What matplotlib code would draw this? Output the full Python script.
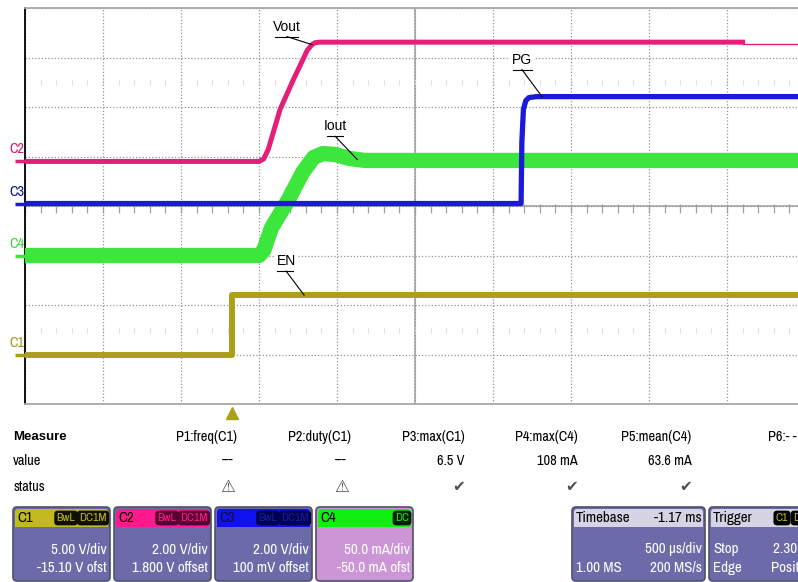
import matplotlib.pyplot as plt
import matplotlib.patches as patches
from matplotlib import font_manager
import numpy as np

# 字体: 示波器界面用窄体, 没有就用 Liberation Sans 小一号
installed = {f.name for f in font_manager.fontManager.ttflist}
narrow = sorted(n for n in installed if 'Narrow' in n or 'Condensed' in n)
if narrow:
    UI_FONT, FS = narrow[0], 10.3
else:
    UI_FONT, FS = 'Liberation Sans', 9
plt.rcParams['font.family'] = [UI_FONT, 'DejaVu Sans']

# ---- 示波器设置 ----
time_per_div = 0.5          # ms/div (500 us/div)
trig_delay = 1.17           # ms, timebase -1.17 ms
n_xdiv, n_ydiv = 10, 8

ch_names = ['C1', 'C2', 'C3', 'C4']
ch_per_div = [5.00, 2.00, 2.00, 50.0]      # V/div ... mA/div
ch_offset = [-15.10, 1.800, 0.100, -50.0]
ch_scale_text = ['5.00 V/div', '2.00 V/div', '2.00 V/div', '50.0 mA/div']
ch_offset_text = ['-15.10 V ofst', '1.800 V offset', '100 mV offset', '-50.0 mA ofst']
ch_tags = [['BwL', 'DC1M'], ['BwL', 'DC1M'], ['BwL', 'DC1M'], ['DC']]

# ---- 波形 (时间 ms; C1-C3 单位 V, C4 单位 mA) ----
en_t = [-1.33, 0.0, 0.0, 3.67]
en_v = [0.0, 0.0, 6.1, 6.1]

vout_t = [-1.33, 0.17, 0.20, 0.23, 0.305, 0.39, 0.48, 0.51, 0.53, 0.56, 3.27]
vout_v = [0.0, 0.0, 0.1, 0.5, 2.1, 3.3, 4.5, 4.72, 4.8, 4.82, 4.82]
vout_tail_t = [3.27, 3.67]
vout_tail_v = [4.75, 4.75]

pg_t = [-1.33, 1.85, 1.855, 1.865, 1.88, 1.90, 1.95, 3.67]
pg_v = [0.0, 0.0, 2.5, 3.8, 4.15, 4.28, 4.32, 4.32]

iout_t = [-1.33, 0.17, 0.20, 0.25, 0.35, 0.45, 0.52, 0.58, 0.66, 0.75, 0.85, 3.67]
iout_i = [0, 0, 5, 28, 54, 84, 99, 103, 102, 98, 96, 96]

# ---- 测量表 ----
meas_names = ['P1:freq(C1)', 'P2:duty(C1)', 'P3:max(C1)', 'P4:max(C4)', 'P5:mean(C4)']
meas_values = ['---', '---', '6.5 V', '108 mA', '63.6 mA']
meas_status = ['warn', 'warn', 'ok', 'ok', 'ok']

colors = {'C1': '#aca01a', 'C2': '#e41f78', 'C3': '#1a1ad8', 'C4': '#3ce63c'}
head_colors = {'C1': '#c2b820', 'C2': '#ff1a8c', 'C3': '#1010f0', 'C4': '#10f010'}
tag_fc = {'C1': '#101000', 'C2': '#5a0030', 'C3': '#000050', 'C4': '#002000'}
tag_tc = {'C1': '#c2b820', 'C2': '#ff1a8c', 'C3': '#1a1aa0', 'C4': '#10f010'}
label_colors = {'C1': '#a09a20', 'C2': '#d0206e', 'C3': '#101080', 'C4': '#40d040'}
body_color = '#6c6aa8'

W, H = 798, 582
fig = plt.figure(figsize=(W / 100, H / 100), dpi=100)
fig.patch.set_facecolor('white')

# 屏幕网格: 原点与每格像素
X0, Y0, DX, DY = 25, 8, 78, 49.5
ax = fig.add_axes([X0 / W, 1 - (Y0 + n_ydiv * DY) / H, n_xdiv * DX / W, n_ydiv * DY / H], zorder=0)
t_left = trig_delay - n_xdiv / 2 * time_per_div
t_right = t_left + n_xdiv * time_per_div
ax.set_xlim(t_left, t_right)
ax.set_ylim(-n_ydiv / 2, n_ydiv / 2)
ax.set_xticks(t_left + time_per_div * np.arange(n_xdiv + 1))
ax.set_yticks(np.arange(-n_ydiv // 2, n_ydiv // 2 + 1))
ax.tick_params(length=0, labelbottom=False, labelleft=False)
ax.grid(True, color='#959595', linestyle=(0, (1, 1.6)), linewidth=0.9)
ax.spines['left'].set_color('black')
ax.spines['left'].set_linewidth(1.3)
for s in ['top', 'bottom']:
    ax.spines[s].set_color('#a8a8a8')
    ax.spines[s].set_linewidth(1.3)
ax.spines['right'].set_visible(False)

# 中心线与刻度
ax.axvline(t_left + n_xdiv / 2 * time_per_div, color='#a8a8a8', lw=1.2, zorder=1)
ax.axhline(0, color='#a8a8a8', lw=1.2, zorder=1)
minor_t = t_left + 0.2 * time_per_div * np.arange(n_xdiv * 5 + 1)
ax.vlines(minor_t, -0.14, 0.04, color='#a0a0a0', lw=0.9, zorder=1)
ax.vlines(minor_t, 2.45, 2.56, color='#e2e2e2', lw=0.8, zorder=1)
ax.vlines(minor_t, -2.56, -2.45, color='#e2e2e2', lw=0.8, zorder=1)


def to_div(vals, ch):
    i = ch_names.index(ch)
    return (np.asarray(vals, dtype=float) + ch_offset[i]) / ch_per_div[i]


# 波形
ax.plot(iout_t, to_div(iout_i, 'C4'), color=colors['C4'], lw=11, solid_joinstyle='round', zorder=3)
ax.plot(pg_t, to_div(pg_v, 'C3'), color=colors['C3'], lw=3.8, zorder=4)
ax.plot(vout_t, to_div(vout_v, 'C2'), color=colors['C2'], lw=3.6, zorder=5)
ax.plot(vout_tail_t, to_div(vout_tail_v, 'C2'), color=colors['C2'], lw=1.0, zorder=5)
ax.plot(en_t, to_div(en_v, 'C1'), color=colors['C1'], lw=4.3, zorder=6)

# 覆盖层 (像素坐标)
ov = fig.add_axes([0, 0, 1, 1], zorder=2)
ov.set_xlim(0, W)
ov.set_ylim(H, 0)
ov.axis('off')


def scope_px(t, ydiv):
    return X0 + (t - t_left) / time_per_div * DX, Y0 + (n_ydiv / 2 - ydiv) * DY


# 左侧通道标记
for ch in ['C2', 'C3', 'C4', 'C1']:
    _, py = scope_px(t_left, to_div([0.0], ch)[0])
    ov.plot([15, X0], [py, py], color=colors[ch], lw=2.5, solid_capstyle='butt')
    ov.text(17, py - 12, ch, color=label_colors[ch], fontsize=FS, ha='center', va='center')

# 触发标记
tx, _ = scope_px(0.0, 0)
ov.plot([tx], [413], marker='^', color=colors['C1'], markersize=8, clip_on=False)


# 标注
def callout(name, t, y, dx, dy, ux0, ux1):
    px, py = scope_px(t, y)
    ov.text(px + dx, py + dy, name, fontsize=10, family='Liberation Sans', ha='center', va='center',
            bbox=dict(boxstyle='square,pad=0.15', fc='white', ec='none'), zorder=6)
    uy = py + dy + 10
    ov.plot([px + ux0, px + ux1], [uy, uy], color='black', lw=0.8, zorder=6)
    ov.plot([px + dx, px], [uy, py], color='black', lw=0.8, zorder=6)


callout('Vout', 0.51, to_div([4.72], 'C2')[0], -25, -18, -37, -14)
callout('Iout', 0.80, to_div([97], 'C4')[0], -22, -33, -30, -14)
callout('PG', 1.984, to_div([4.32], 'C3')[0], -20, -37, -29, -10)
callout('EN', 0.459, to_div([6.1], 'C1')[0], -18, -34, -27, -11)

# 测量表
ROW_M, ROW_V, ROW_S = 437, 461, 487
ov.text(13, ROW_M, 'Measure', family='Liberation Sans', fontsize=9.5, fontweight='bold', va='center')
ov.text(13, ROW_V, 'value', fontsize=FS, va='center')
ov.text(13, ROW_S, 'status', fontsize=FS, va='center')
col_right = 237 + 113.6 * np.arange(len(meas_names))
for i, name in enumerate(meas_names):
    ov.text(col_right[i], ROW_M, name, fontsize=FS, ha='right', va='center')
    ov.text(col_right[i] - (4 if meas_values[i] == '---' else 0), ROW_V, meas_values[i],
            fontsize=FS, ha='right', va='center')
    if meas_status[i] == 'warn':
        ov.text(col_right[i] - 9, ROW_S, '\u26a0', family='DejaVu Sans', fontsize=12,
                color='#505050', fontweight='bold', ha='center', va='center')
    else:
        ov.text(col_right[i] - 6, ROW_S, '\u2714', family='DejaVu Sans', fontsize=11,
                color='#505050', ha='center', va='center')
ov.text(797, ROW_M, 'P6:- -', fontsize=FS, ha='right', va='center')

# 底部通道框
TOP, BOT, HEAD = 507, 581, 18


def panel(x, w, head, body):
    ov.add_patch(patches.FancyBboxPatch((x, TOP), w, BOT - TOP, boxstyle='round,pad=0,rounding_size=4',
                                        fc=body, ec='none'))
    ov.add_patch(patches.FancyBboxPatch((x + 2, TOP + 2), w - 4, HEAD, boxstyle='round,pad=0,rounding_size=3',
                                        fc=head, ec='none'))
    ov.add_patch(patches.Rectangle((x + 2, TOP + 2 + HEAD / 2), w - 4, HEAD / 2, fc=head, ec='none'))
    ov.add_patch(patches.FancyBboxPatch((x, TOP), w, BOT - TOP, boxstyle='round,pad=0,rounding_size=4',
                                        fc='none', ec='#50506a', lw=1.2))


def tag(x, y, s, fc, tc):
    ov.text(x, y, s, ha='center', va='center', fontsize=8.5, color=tc,
            bbox=dict(boxstyle='round,pad=0.2,rounding_size=0.3', fc=fc, ec='none'))


hy = TOP + 2 + HEAD / 2
for i, ch in enumerate(ch_names):
    x = 13 + 101 * i
    w = 97
    body = '#cc96d6' if ch == 'C4' else body_color
    panel(x, w, head_colors[ch], body)
    ov.text(x + 4, hy, ch, fontsize=FS + 0.5, color='#101030' if ch == 'C3' else 'black', va='center')
    if len(ch_tags[i]) == 2:
        tag(x + 53, hy, ch_tags[i][0], tag_fc[ch], tag_tc[ch])
        tag(x + 80, hy, ch_tags[i][1], tag_fc[ch], tag_tc[ch])
    else:
        tag(x + 86, hy, ch_tags[i][0], tag_fc[ch], tag_tc[ch])
    ov.text(x + w - 3, 549, ch_scale_text[i], fontsize=FS + 0.5, color='white', ha='right', va='center')
    ov.text(x + w - 3, 568, ch_offset_text[i], fontsize=FS + 0.5, color='white', ha='right', va='center')

# Timebase
tb_x, tb_w = 572, 133
panel(tb_x, tb_w, '#d6d4e4', body_color)
ov.text(tb_x + 4, hy, 'Timebase', fontsize=FS + 0.5, va='center')
ov.text(tb_x + tb_w - 3, hy, '-1.17 ms', fontsize=FS + 0.5, ha='right', va='center')
ov.text(tb_x + tb_w - 3, 549, '500 \u00b5s/div', fontsize=FS + 0.5, color='white', ha='right', va='center')
ov.text(tb_x + 4, 568, '1.00 MS', fontsize=FS + 0.5, color='white', va='center')
ov.text(tb_x + tb_w - 3, 568, '200 MS/s', fontsize=FS + 0.5, color='white', ha='right', va='center')

# Trigger (被右边界截断)
tr_x, tr_w = 709, 133
panel(tr_x, tr_w, '#d6d4e4', body_color)
ov.text(tr_x + 4, hy, 'Trigger', fontsize=FS + 0.5, va='center')
tag(tr_x + 73, hy, 'C1', 'black', '#c2b820')
tag(tr_x + 91, hy, 'DC', 'black', '#c2b820')
ov.text(tr_x + 4, 549, 'Stop', fontsize=FS + 0.5, color='white', va='center')
ov.text(tr_x + 64, 549, '2.30 V', fontsize=FS + 0.5, color='white', ha='left', va='center')
ov.text(tr_x + 4, 568, 'Edge', fontsize=FS + 0.5, color='white', va='center')
ov.text(tr_x + 62, 568, 'Positive', fontsize=FS + 0.5, color='white', ha='left', va='center')

fig.savefig('out.png', dpi=100)
